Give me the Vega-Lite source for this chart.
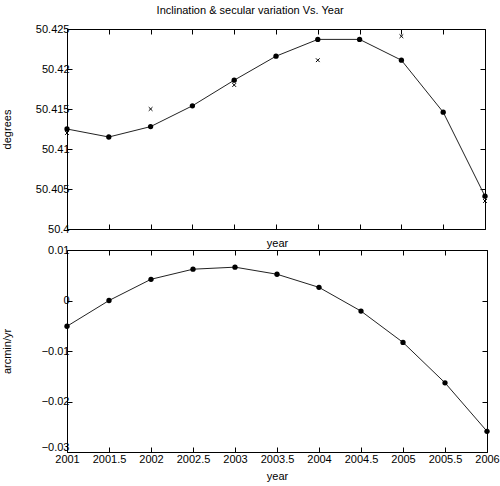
{
  "$schema": "https://vega.github.io/schema/vega-lite/v6.json",
  "background": "white",
  "padding": {"left": 0, "top": 4, "right": 0, "bottom": 0},
  "config": {
    "font": "Liberation Sans",
    "view": {"stroke": "black", "strokeWidth": 1},
    "axis": {
      "grid": false,
      "domain": false,
      "ticks": true,
      "tickSize": -5,
      "tickColor": "black",
      "labelColor": "black",
      "labelFontSize": 11,
      "labelFont": "Liberation Sans",
      "titleFont": "Liberation Sans",
      "titleFontSize": 11,
      "titleFontWeight": "normal",
      "titleColor": "black",
      "labelPadding": 3
    },
    "concat": {"spacing": 2}
  },
  "title": {
    "text": "Inclination & secular variation Vs. Year",
    "fontSize": 11,
    "fontWeight": "normal",
    "font": "Liberation Sans",
    "color": "black",
    "anchor": "middle",
    "offset": 7
  },
  "datasets": {
    "model": [
      {"year": 2001.0, "incl": 50.4125, "sv": -0.0051},
      {"year": 2001.5, "incl": 50.4115, "sv": 0.0},
      {"year": 2002.0, "incl": 50.4128, "sv": 0.0042},
      {"year": 2002.5, "incl": 50.4154, "sv": 0.0062},
      {"year": 2003.0, "incl": 50.4186, "sv": 0.0066},
      {"year": 2003.5, "incl": 50.4216, "sv": 0.0052},
      {"year": 2004.0, "incl": 50.4237, "sv": 0.0026},
      {"year": 2004.5, "incl": 50.4237, "sv": -0.0021},
      {"year": 2005.0, "incl": 50.4211, "sv": -0.0083},
      {"year": 2005.5, "incl": 50.4146, "sv": -0.0163},
      {"year": 2006.0, "incl": 50.4041, "sv": -0.0259}
    ],
    "obs": [
      {"year": 2001.0, "incl": 50.4120},
      {"year": 2002.0, "incl": 50.4150},
      {"year": 2003.0, "incl": 50.4180},
      {"year": 2004.0, "incl": 50.4211},
      {"year": 2005.0, "incl": 50.4241},
      {"year": 2006.0, "incl": 50.4035}
    ]
  },
  "vconcat": [
    {
      "width": 418,
      "height": 200,
      "resolve": {"axis": {"x": "independent", "y": "independent"}},
      "layer": [
        {
          "data": {"name": "model"},
          "mark": {"type": "line", "color": "#222", "strokeWidth": 1},
          "encoding": {
            "x": {"field": "year", "type": "quantitative", "scale": {"domain": [2001, 2006], "nice": false},
                  "axis": {"orient": "bottom", "values": [2001, 2001.5, 2002, 2002.5, 2003, 2003.5, 2004, 2004.5, 2005, 2005.5, 2006], "labels": false, "title": null}},
            "y": {"field": "incl", "type": "quantitative", "scale": {"domain": [50.4, 50.425], "nice": false, "zero": false},
                  "axis": {"orient": "left", "values": [50.4, 50.405, 50.41, 50.415, 50.42, 50.425], "format": "~f", "title": "degrees", "titleX": -55}}
          }
        },
        {
          "data": {"name": "model"},
          "mark": {"type": "point", "filled": true, "color": "black", "size": 28, "opacity": 1},
          "encoding": {
            "x": {"field": "year", "type": "quantitative", "scale": {"domain": [2001, 2006], "nice": false},
                  "axis": {"orient": "top", "values": [2001, 2001.5, 2002, 2002.5, 2003, 2003.5, 2004, 2004.5, 2005, 2005.5, 2006], "labels": false, "title": null}},
            "y": {"field": "incl", "type": "quantitative", "scale": {"domain": [50.4, 50.425], "nice": false, "zero": false},
                  "axis": {"orient": "right", "values": [50.4, 50.405, 50.41, 50.415, 50.42, 50.425], "labels": false, "title": null}}
          }
        },
        {
          "data": {"name": "obs"},
          "mark": {"type": "point", "shape": "M-1,-1L1,1M1,-1L-1,1", "filled": false, "color": "black", "size": 14, "strokeWidth": 1, "opacity": 1},
          "encoding": {
            "x": {"field": "year", "type": "quantitative", "scale": {"domain": [2001, 2006], "nice": false}, "axis": null},
            "y": {"field": "incl", "type": "quantitative", "scale": {"domain": [50.4, 50.425], "nice": false, "zero": false}, "axis": null}
          }
        }
      ]
    },
    {
      "width": 420,
      "height": 202,
      "resolve": {"axis": {"x": "independent", "y": "independent"}},
      "layer": [
        {
          "data": {"name": "model"},
          "mark": {"type": "line", "color": "#222", "strokeWidth": 1},
          "encoding": {
            "x": {"field": "year", "type": "quantitative", "scale": {"domain": [2001, 2006], "nice": false},
                  "axis": {"orient": "bottom", "values": [2001, 2001.5, 2002, 2002.5, 2003, 2003.5, 2004, 2004.5, 2005, 2005.5, 2006], "format": "~f", "title": "year", "labelPadding": 6, "titlePadding": 6, "labelFlush": false}},
            "y": {"field": "sv", "type": "quantitative", "scale": {"domain": [-0.03, 0.01], "nice": false, "zero": false},
                  "axis": {"orient": "left", "values": [-0.03, -0.02, -0.01, 0, 0.01], "format": "~f", "title": "arcmin/yr", "titleX": -55,
                           "labelOffset": {"condition": {"test": "datum.value < -0.025", "value": -5}, "value": 0}}}
          }
        },
        {
          "data": {"name": "model"},
          "mark": {"type": "point", "filled": true, "color": "black", "size": 28, "opacity": 1},
          "encoding": {
            "x": {"field": "year", "type": "quantitative", "scale": {"domain": [2001, 2006], "nice": false},
                  "axis": {"orient": "top", "values": [2001, 2001.5, 2002, 2002.5, 2003, 2003.5, 2004, 2004.5, 2005, 2005.5, 2006], "labels": false, "title": "year", "titlePadding": 1}},
            "y": {"field": "sv", "type": "quantitative", "scale": {"domain": [-0.03, 0.01], "nice": false, "zero": false},
                  "axis": {"orient": "right", "values": [-0.03, -0.02, -0.01, 0, 0.01], "labels": false, "title": null}}
          }
        }
      ]
    }
  ]
}
